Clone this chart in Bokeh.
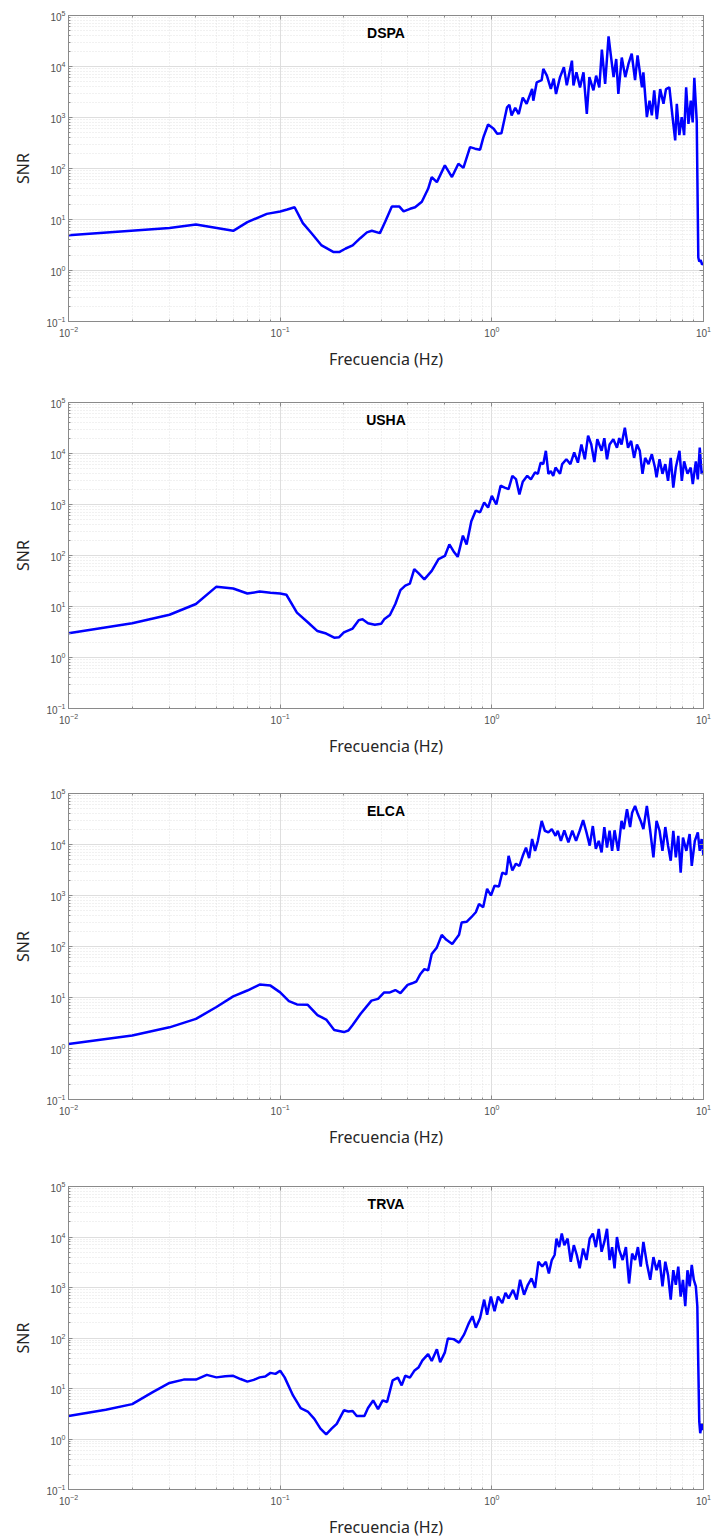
import numpy as np
from bokeh.plotting import figure
from bokeh.layouts import column
from bokeh.models import LogAxis, Label, CustomJSTickFormatter, Range1d
from bokeh.embed import file_html
from bokeh.resources import INLINE

# ---------------- data ----------------
stations = ["DSPA", "USHA", "ELCA", "TRVA"]

dspa_freq = [0.01, 0.03, 0.04, 0.06, 0.07, 0.0865, 0.1, 0.108, 0.117, 0.128, 0.141, 0.157,
             0.179, 0.19, 0.204, 0.22, 0.239, 0.257, 0.271, 0.296, 0.313, 0.337, 0.366, 0.383,
             0.411, 0.434, 0.467, 0.50, 0.52, 0.55, 0.60, 0.648, 0.695, 0.734, 0.789, 0.833,
             0.88, 0.912, 0.96, 1.02, 1.06, 1.11, 1.18, 1.21, 1.24, 1.29, 1.34, 1.40, 1.46,
             1.55, 1.57, 1.63, 1.72, 1.75, 1.82, 1.90, 1.96, 2.01, 2.10, 2.19, 2.26, 2.39,
             2.43, 2.51, 2.61, 2.71, 2.81, 2.89, 3.02, 3.11, 3.22, 3.31, 3.43, 3.56, 3.65,
             3.76, 3.87, 3.96, 4.11, 4.27, 4.42, 4.58, 4.75, 4.88, 5.12, 5.2, 5.40, 5.56,
             5.70, 5.85, 6.02, 6.24, 6.47, 6.65, 6.90, 7.16, 7.35, 7.48, 7.69, 7.89, 8.1,
             8.28, 8.49, 8.71, 8.89, 9.05, 9.29, 9.45, 9.55, 9.7, 9.85, 10.0]
dspa_snr = [4.9, 6.8, 8.0, 6.0, 8.9, 12.9, 14.4, 15.7, 17.4, 8.5, 5.3, 3.1,
            2.3, 2.3, 2.7, 3.1, 4.3, 5.6, 6.0, 5.4, 8.9, 17.9, 17.9, 14.4,
            16.2, 17.4, 22.3, 40, 68, 54, 115, 68, 124, 103, 262, 245,
            234, 408, 728, 600, 480, 490, 1590, 1780, 1100, 1550, 1170, 2460, 1860,
            3630, 2140, 4900, 5400, 9000, 6600, 3630, 5800, 2890, 6200, 9700, 4270, 13000,
            4270, 7700, 3900, 7700, 1170, 6200, 3400, 6600, 3900, 21400, 4570, 39000, 16500,
            6200, 14000, 2900, 15000, 6200, 11200, 17800, 5400, 16500, 3900, 7700, 1020, 2140,
            1100, 3400, 930, 3600, 1860, 3600, 3900, 930, 355, 1860, 450, 1020, 450,
            3900, 750, 2140, 800, 6000, 850, 1.8, 1.5, 1.6, 1.3, 1.4]

usha_freq = [0.01, 0.02, 0.03, 0.04, 0.05, 0.06, 0.07, 0.08, 0.09, 0.1, 0.107, 0.12, 0.135,
             0.15, 0.165, 0.18, 0.19, 0.2, 0.22, 0.235, 0.245, 0.26, 0.28, 0.3, 0.31, 0.33,
             0.35, 0.37, 0.39, 0.41, 0.43, 0.45, 0.48, 0.52, 0.56, 0.6, 0.63, 0.66, 0.69,
             0.73, 0.76, 0.8, 0.84, 0.88, 0.92, 0.96, 1.0, 1.05, 1.1, 1.15, 1.2, 1.25, 1.3,
             1.35, 1.4, 1.47, 1.53, 1.6, 1.65, 1.7, 1.75, 1.8, 1.85, 1.9, 1.95, 2.0, 2.1,
             2.15, 2.25, 2.35, 2.45, 2.55, 2.65, 2.75, 2.85, 2.95, 3.05, 3.15, 3.3, 3.4,
             3.5, 3.6, 3.75, 3.9, 4.0, 4.1, 4.25, 4.4, 4.55, 4.7, 4.85, 5.0, 5.15, 5.3,
             5.5, 5.7, 5.9, 6.0, 6.2, 6.4, 6.6, 6.8, 7.0, 7.2, 7.4, 7.7, 7.9, 8.1, 8.4,
             8.7, 8.9, 9.2, 9.4, 9.6, 9.8, 10.0]
usha_snr = [3.0, 4.7, 6.9, 11.2, 24.5, 22.5, 18, 19.6, 18.7, 18, 17, 7.6, 4.9,
            3.3, 2.95, 2.45, 2.5, 3.1, 3.7, 5.4, 5.6, 4.7, 4.4, 4.6, 5.6, 6.8,
            11.2, 21, 25.7, 28, 54, 45, 34, 50, 85, 98, 165, 120, 94,
            245, 165, 470, 760, 700, 1100, 870, 1480, 1000, 2330, 2150, 2000, 3650, 3150,
            1580, 2800, 3650, 3100, 4250, 4000, 6600, 6200, 11300, 4000, 4500, 3650, 5300, 4000,
            6200, 7700, 6200, 10500, 6600, 15000, 7700, 22300, 15000, 6800, 19000, 11300, 20000,
            7700, 15000, 19000, 13000, 20000, 15000, 32000, 13000, 17700, 8200, 15000, 11300, 4000, 8200,
            6200, 9700, 5300, 3400, 7700, 4000, 6200, 2900, 8200, 2150, 5300, 11300, 2900, 7000, 4000,
            5300, 2500, 7000, 3100, 13000, 4000, 4500]

elca_freq = [0.01, 0.02, 0.03, 0.04, 0.05, 0.06, 0.07, 0.08, 0.09, 0.1, 0.11, 0.12, 0.135,
             0.15, 0.165, 0.18, 0.2, 0.21, 0.22, 0.24, 0.27, 0.29, 0.31, 0.33, 0.35, 0.37,
             0.4, 0.42, 0.44, 0.46, 0.48, 0.5, 0.52, 0.55, 0.58, 0.61, 0.65, 0.7, 0.72,
             0.76, 0.8, 0.84, 0.87, 0.91, 0.95, 0.99, 1.03, 1.08, 1.12, 1.17, 1.2, 1.25,
             1.3, 1.35, 1.4, 1.45, 1.5, 1.55, 1.6, 1.65, 1.72, 1.78, 1.85, 1.92, 2.0,
             2.05, 2.12, 2.2, 2.3, 2.4, 2.5, 2.6, 2.7, 2.8, 2.9, 3.0, 3.1, 3.2, 3.3,
             3.4, 3.5, 3.6, 3.7, 3.8, 3.95, 4.1, 4.2, 4.35, 4.5, 4.6, 4.75, 4.9, 5.05,
             5.2, 5.4, 5.6, 5.8, 6.0, 6.2, 6.4, 6.6, 6.8, 7.0, 7.2, 7.4, 7.6, 7.8, 8.0,
             8.3, 8.6, 8.8, 9.1, 9.4, 9.6, 9.8, 10.0]
elca_snr = [1.23, 1.8, 2.6, 3.8, 6.5, 10.5, 13.7, 17.9, 17.1, 12.6, 8.5, 7.3, 7.2,
            4.5, 3.7, 2.3, 2.1, 2.25, 2.9, 4.8, 8.7, 9.4, 12.6, 12.6, 14, 12.2,
            17.7, 19, 20.6, 29, 36, 34, 71, 96, 169, 135, 112, 170, 295,
            305, 375, 470, 680, 590, 1350, 1000, 1550, 1500, 2800, 2600, 6000, 3100,
            4200, 3800, 6000, 8700, 5400, 12800, 7500, 11800, 29000, 18600, 17300, 20000, 14800,
            18600, 11800, 19000, 11000, 18600, 11800, 18600, 30000, 17300, 9500, 23000, 8200, 11800, 7000,
            22000, 8700, 18600, 7500, 19000, 7500, 29000, 20000, 49000, 22000, 42000, 57000, 39000, 29000,
            20000, 57000, 18600, 5600, 29000, 18600, 7500, 22000, 9500, 4800, 18600, 5600, 14800, 2800, 13700,
            7500, 16000, 3800, 11800, 17300, 7500, 12800, 6000]

trva_freq = [0.01, 0.015, 0.02, 0.025, 0.03, 0.035, 0.04, 0.045, 0.05, 0.055, 0.06, 0.065,
             0.07, 0.075, 0.08, 0.085, 0.09, 0.095, 0.1, 0.105, 0.115, 0.125, 0.135, 0.145,
             0.155, 0.165, 0.175, 0.185, 0.2, 0.21, 0.22, 0.23, 0.25, 0.26, 0.275, 0.29,
             0.305, 0.32, 0.34, 0.36, 0.375, 0.39, 0.41, 0.43, 0.45, 0.47, 0.5, 0.52, 0.55,
             0.57, 0.6, 0.62, 0.66, 0.7, 0.74, 0.78, 0.81, 0.84, 0.88, 0.92, 0.95, 0.99,
             1.03, 1.07, 1.12, 1.16, 1.2, 1.26, 1.31, 1.36, 1.42, 1.48, 1.54, 1.6, 1.66,
             1.73, 1.8, 1.86, 1.92, 1.98, 2.02, 2.08, 2.14, 2.2, 2.28, 2.36, 2.44, 2.52,
             2.6, 2.7, 2.8, 2.9, 3.0, 3.1, 3.2, 3.3, 3.4, 3.5, 3.6, 3.7, 3.8, 3.9, 4.0,
             4.15, 4.3, 4.45, 4.6, 4.75, 4.9, 5.05, 5.2, 5.4, 5.6, 5.8, 6.0, 6.2, 6.4,
             6.6, 6.8, 7.0, 7.2, 7.4, 7.6, 7.8, 8.0, 8.2, 8.4, 8.6, 8.8, 9.0, 9.2, 9.35,
             9.45, 9.55, 9.65, 9.8, 9.9, 10.0]
trva_snr = [2.85, 3.8, 4.9, 8.5, 12.9, 15, 15, 18.6, 16.6, 17.5, 17.8, 15.4,
            13.7, 14.8, 16.6, 17.2, 20.4, 19.5, 22.5, 16.6, 7.3, 4.1, 3.5, 2.5,
            1.6, 1.23, 1.6, 2.0, 3.7, 3.5, 3.6, 2.85, 2.85, 4.1, 5.8, 3.9,
            5.8, 5.4, 14.5, 16.4, 11.5, 17.9, 16.4, 22.4, 26, 36, 48, 35, 60,
            33, 52, 98, 95, 81, 118, 200, 270, 160, 250, 575, 290, 660,
            340, 660, 490, 780, 610, 900, 575, 1420, 720, 1130, 1520, 980, 3240,
            2600, 3240, 1900, 3500, 4400, 9300, 6300, 11700, 6900, 9300, 3240, 6900, 4400,
            2400, 5900, 3500, 9300, 11700, 6300, 14500, 5100, 8000, 14500, 3500, 6300, 2400, 10000, 5500,
            3500, 6300, 1200, 4700, 3500, 6300, 2600, 8000, 3000, 1420, 4000, 2200, 3500, 1050,
            3240, 1770, 575, 2200, 1130, 2600, 660, 1420, 425, 2200, 1050, 2800, 1420, 1050, 425,
            28, 2.2, 1.3, 2.0, 1.5, 1.9]

freqs = [dspa_freq, usha_freq, elca_freq, trva_freq]
snrs = [dspa_snr, usha_snr, elca_snr, trva_snr]

x_label = "Frecuencia (Hz)"
y_label = "SNR"

# ---------------- layout per panel: (height, border_top, border_bottom) ----------------
panel_geom = [(393, 15, 72), (392, 9, 77), (393, 8, 79), (362, 8, 48)]

AXIS_COL = "#8a8a8a"
LABEL_COL = "#505050"
BLANK = CustomJSTickFormatter(code="return ''")


def style_axis(ax):
    ax.axis_line_color = AXIS_COL
    ax.axis_line_width = 1
    ax.major_tick_in = 4
    ax.major_tick_out = 0
    ax.minor_tick_in = 2
    ax.minor_tick_out = 0
    ax.major_tick_line_color = AXIS_COL
    ax.minor_tick_line_color = AXIS_COL
    ax.major_label_text_color = LABEL_COL
    ax.major_label_text_font = "Liberation Sans"
    ax.major_label_text_font_size = "10px"


def make_panel(name, freq, snr, geom):
    h, bt, bb = geom
    p = figure(width=713, height=h, x_axis_type="log", y_axis_type="log",
               x_range=Range1d(0.01, 10), y_range=Range1d(0.1, 1e5),
               output_backend="svg", toolbar_location=None,
               min_border_left=68, min_border_right=10,
               min_border_top=bt, min_border_bottom=bb)
    p.background_fill_color = "white"
    p.border_fill_color = "white"
    p.outline_line_color = AXIS_COL

    p.line(freq, snr, line_color="#0000ff", line_width=2.5)

    for g in (p.xgrid[0], p.ygrid[0]):
        g.grid_line_color = "#dedede"
        g.grid_line_width = 1
        g.minor_grid_line_color = "#e2e2e2"
        g.minor_grid_line_dash = "1 2"
        g.minor_grid_line_width = 1

    xa = p.xaxis[0]
    ya = p.yaxis[0]
    style_axis(xa)
    style_axis(ya)
    xa.axis_label = x_label
    xa.axis_label_text_font = "Noto Sans"
    xa.axis_label_text_font_size = "16px"
    xa.axis_label_text_font_style = "normal"
    xa.axis_label_text_color = "#262626"
    xa.major_label_standoff = 4
    xa.axis_label_standoff = 8

    ya.axis_label = y_label
    ya.axis_label_text_font = "Noto Sans"
    ya.axis_label_text_font_size = "16px"
    ya.axis_label_text_font_style = "normal"
    ya.axis_label_text_color = "#262626"
    ya.major_label_standoff = 3
    ya.axis_label_standoff = 9

    ra = LogAxis(formatter=BLANK)
    ta = LogAxis(formatter=BLANK)
    for ax in (ra, ta):
        style_axis(ax)
        ax.major_label_standoff = 0
    p.add_layout(ra, "right")
    p.add_layout(ta, "above")

    lab = Label(x=10 ** -0.5, y=10 ** 4.65, text=name, text_align="center",
                text_baseline="middle", text_font="Liberation Sans",
                text_font_style="bold", text_font_size="14px", text_color="#000000")
    p.add_layout(lab)
    return p


panels = [make_panel(n, f, s, g) for n, f, s, g in zip(stations, freqs, snrs, panel_geom)]
layout = column(*panels, spacing=0)

open("out.html", "w").write(file_html(layout, INLINE))
